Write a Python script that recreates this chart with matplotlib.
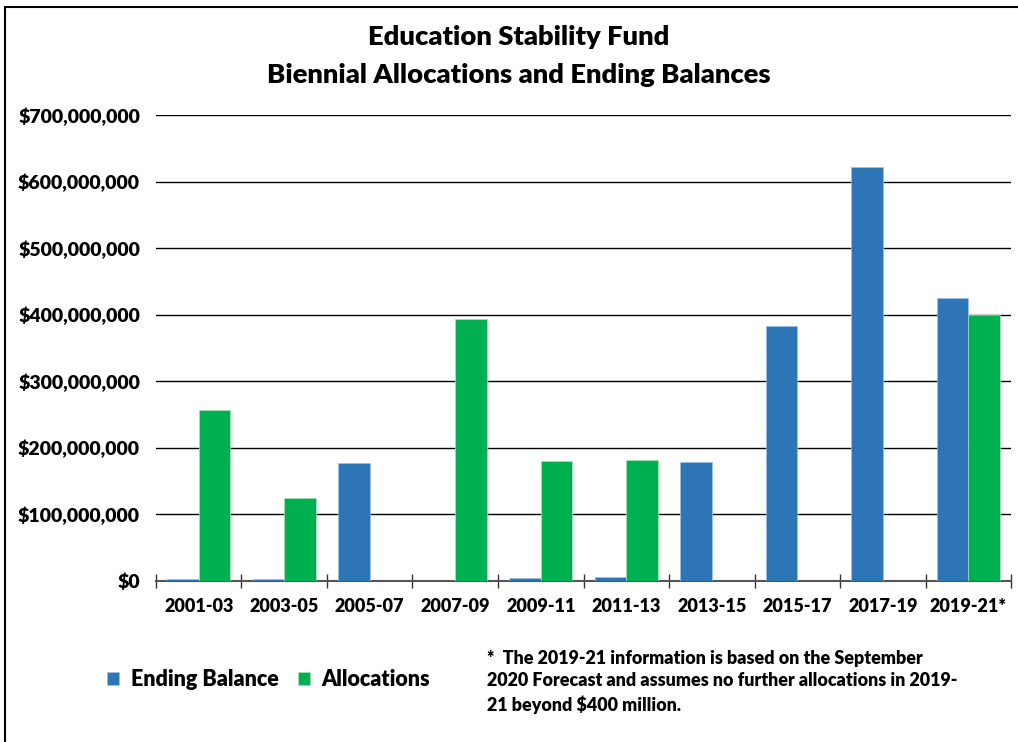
import matplotlib.pyplot as plt
import matplotlib.ticker as mticker
from matplotlib.patches import Rectangle
import numpy as np

plt.rcParams['font.family'] = ['Lato', 'DejaVu Sans']
plt.rcParams['font.weight'] = 'heavy'

# 数据（单位：美元）
periods = ["2001-03", "2003-05", "2005-07", "2007-09", "2009-11",
           "2011-13", "2013-15", "2015-17", "2017-19", "2019-21*"]
ending_balance = [3e6, 3e6, 177e6, 0, 5e6, 6e6, 179e6, 383e6, 622e6, 425e6]
allocations = [257e6, 125e6, 0, 393e6, 180e6, 182e6, 0, 0, 0, 400e6]

blue = "#2E75B6"
green = "#00B050"
fw = "heavy"

fig = plt.figure(figsize=(10.18, 7.42), dpi=100)
ax = fig.add_axes([0.1532, 0.217, 0.840, 0.628])

x = np.arange(len(periods))
w = 0.37
ax.bar(x - w / 2, ending_balance, width=w, color=blue, edgecolor="#9dc3e6",
       linewidth=0.5, label="Ending Balance", zorder=3)
ax.bar(x + w / 2, allocations, width=w, color=green, edgecolor="#a9e0bd",
       linewidth=0.5, label="Allocations", zorder=3)

ax.set_xlim(-0.5, len(periods) - 0.5)
ax.set_ylim(0, 700e6)
ax.yaxis.set_major_locator(mticker.MultipleLocator(100e6))
ax.yaxis.set_major_formatter(mticker.FuncFormatter(lambda v, p: f"${v:,.0f}"))
ax.grid(axis="y", color="black", linewidth=1, zorder=0)

# 分类边界刻度 + 居中标签
ax.set_xticks(np.arange(len(periods) + 1) - 0.5)
ax.set_xticklabels([])
ax.set_xticks(x, minor=True)
ax.set_xticklabels(periods, minor=True, fontsize=13, fontweight=fw)
ax.tick_params(axis="x", which="major", direction="inout", length=10,
               color="#333333", width=1)
ax.tick_params(axis="x", which="minor", length=0, pad=12)
ax.tick_params(axis="y", length=0, labelsize=14, pad=11.5)
for lab in ax.get_yticklabels():
    lab.set_fontweight(fw)

for s in ["top", "right", "left"]:
    ax.spines[s].set_visible(False)
ax.spines["bottom"].set_color("#555555")
ax.spines["bottom"].set_linewidth(1.5)
ax.spines["bottom"].set_zorder(2)

fig.text(0.51, 0.95, "Education Stability Fund", ha="center", va="center",
         fontsize=19.7, fontweight=fw)
fig.text(0.51, 0.899, "Biennial Allocations and Ending Balances", ha="center",
         va="center", fontsize=19.7, fontweight=fw)

fig.legend(loc="center left", bbox_to_anchor=(0.086, 0.0836), ncol=2,
           frameon=False, handlelength=0.55, handleheight=0.55,
           handletextpad=0.55, columnspacing=0.9, prop={"weight": fw, "size": 15.5})

fig.text(0.478, 0.0809, "*  The 2019-21 information is based on the September\n"
         "2020 Forecast and assumes no further allocations in 2019-\n"
         "21 beyond $400 million.", ha="left", va="center", fontsize=12.9,
         fontweight=fw, linespacing=1.4)

# 外框
fig.patches.append(Rectangle((5 / 1018, -0.05), 1.1, 1 - 7 / 742 + 0.05,
                             transform=fig.transFigure, fill=False,
                             edgecolor="black", linewidth=1.5))

plt.savefig("out.png", dpi=100)
